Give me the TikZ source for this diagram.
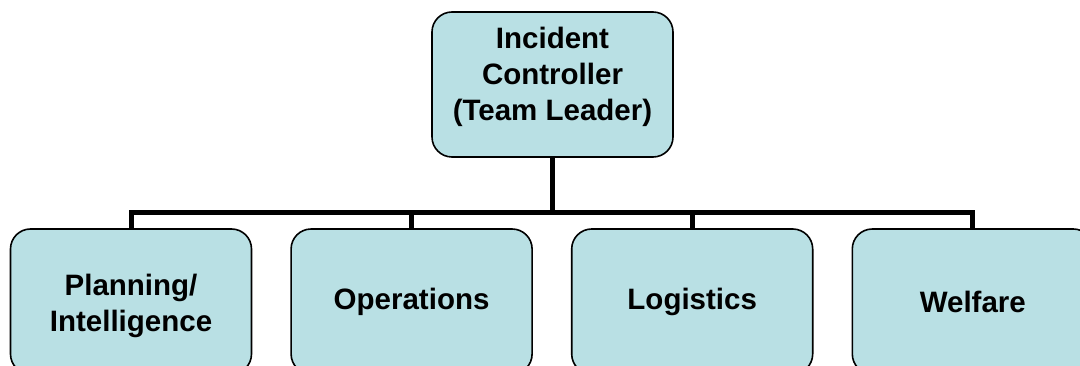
\documentclass[tikz,border=0pt]{standalone}
\usepackage{fontspec}
\setmainfont{Liberation Sans}
\usetikzlibrary{positioning}
\definecolor{boxfill}{HTML}{B9E0E4}
\tikzstyle{unit} = [draw, line width=1.6pt, fill=boxfill, rectangle, rounded corners=20pt,
  minimum width=241pt, minimum height=145pt, align=center,
  font=\fontsize{29.5}{36}\selectfont\bfseries]
\tikzstyle{wire} = [line width=5pt]
% several centred lines, moved up or down inside the box
\newcommand{\unittext}[2]{\raisebox{#1}[\height][\depth]{\begin{tabular}{@{}c@{}}#2\end{tabular}}}

\begin{document}
\begin{tikzpicture}[x=1pt,y=-1pt]
  \useasboundingbox (0,0) rectangle (1080,366);
  \clip (0,0) rectangle (1080,366);
  \node[unit] (lead) at (552.5,84.5) {\unittext{7.6pt}{Incident\\Controller\\(Team Leader)}};
  \node[unit] (plan) at (131,301.5) {\unittext{-5pt}{Planning/\\Intelligence}};
  \node[unit, right=38pt of plan] (ops) {Operations};
  \node[unit, right=38pt of ops] (logi) {Logistics};
  \node[unit, right=38pt of logi] (welf) {Welfare};
  \coordinate (bus) at (552.5,213);
  % tree lines
  \draw[wire] (lead) -- (bus);
  \draw[wire] (plan) |- (bus) -| (welf);
  \draw[wire] (ops) -- (ops |- bus);
  \draw[wire] (logi) -- (logi |- bus);
\end{tikzpicture}
\end{document}
